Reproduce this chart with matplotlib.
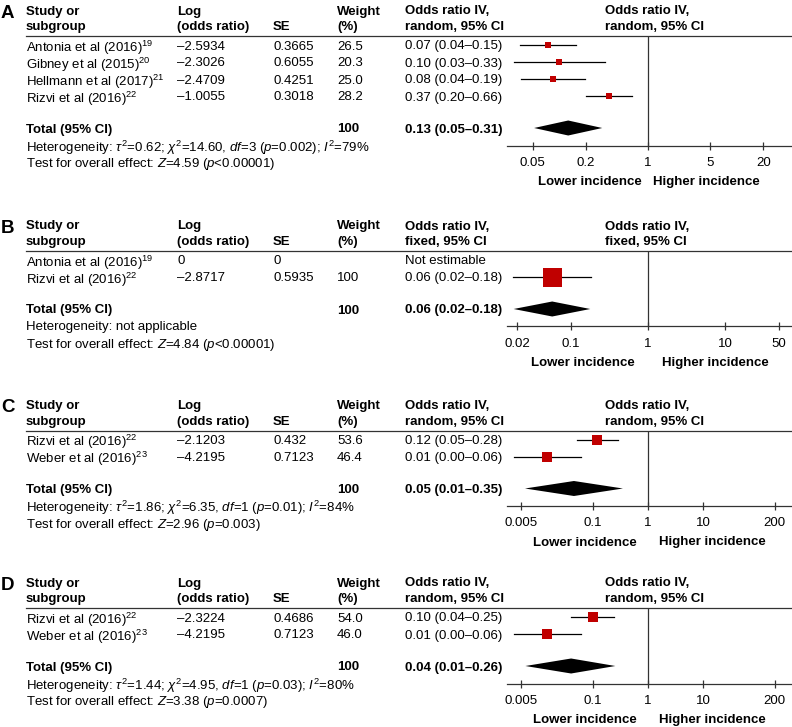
import matplotlib
matplotlib.use('Agg')
import matplotlib.pyplot as plt
from matplotlib.lines import Line2D
from matplotlib.ticker import NullLocator, FixedLocator, FixedFormatter
import numpy as np

plt.rcParams['font.family'] = ['Liberation Sans', 'DejaVu Sans']
plt.rcParams['mathtext.fontset'] = 'custom'
plt.rcParams['mathtext.rm'] = 'Liberation Sans'
plt.rcParams['mathtext.it'] = 'Liberation Sans:italic'
plt.rcParams['mathtext.bf'] = 'Liberation Sans:bold'

W, H = 792, 727
D = '\u2013'

# ---------------- Data ----------------
# Panel A
a_studies = ['Antonia et al (2016)$^{19}$', 'Gibney et al (2015)$^{20}$',
             'Hellmann et al (2017)$^{21}$', 'Rizvi et al (2016)$^{22}$']
a_log_or = [-2.5934, -2.3026, -2.4709, -1.0055]
a_se = [0.3665, 0.6055, 0.4251, 0.3018]
a_weight = [26.5, 20.3, 25.0, 28.2]
a_or_text = ['0.07 (0.04' + D + '0.15)', '0.10 (0.03' + D + '0.33)',
             '0.08 (0.04' + D + '0.19)', '0.37 (0.20' + D + '0.66)']
a_total = [0.126, 0.052, 0.305]
a_total_text = '0.13 (0.05' + D + '0.31)'
a_het = r'Heterogeneity: $\tau^2$=0.62; $\chi^2$=14.60, $df$=3 ($p$=0.002); $I^2$=79%'
a_test = r'Test for overall effect: $Z$=4.59 ($p$<0.00001)'
a_ticks = [0.05, 0.2, 1, 5, 20]
a_ticklabels = ['0.05', '0.2', '1', '5', '20']

# Panel B
b_studies = ['Antonia et al (2016)$^{19}$', 'Rizvi et al (2016)$^{22}$']
b_log_or = [0, -2.8717]
b_se = [0, 0.5935]
b_weight = [None, 100]
b_or_text = ['Not estimable', '0.06 (0.02' + D + '0.18)']
b_total = [0.057, 0.018, 0.178]
b_total_text = '0.06 (0.02' + D + '0.18)'
b_het = 'Heterogeneity: not applicable'
b_test = r'Test for overall effect: $Z$=4.84 ($p$<0.00001)'
b_ticks = [0.02, 0.1, 1, 10, 50]
b_ticklabels = ['0.02', '0.1', '1', '10', '50']

# Panel C
c_studies = ['Rizvi et al (2016)$^{22}$', 'Weber et al (2016)$^{23}$']
c_log_or = [-2.1203, -4.2195]
c_se = [0.432, 0.7123]
c_weight = [53.6, 46.4]
c_or_text = ['0.12 (0.05' + D + '0.28)', '0.01 (0.00' + D + '0.06)']
c_total = [0.045, 0.0058, 0.35]
c_total_text = '0.05 (0.01' + D + '0.35)'
c_het = r'Heterogeneity: $\tau^2$=1.86; $\chi^2$=6.35, $df$=1 ($p$=0.01); $I^2$=84%'
c_test = r'Test for overall effect: $Z$=2.96 ($p$=0.003)'
c_ticks = [0.005, 0.1, 1, 10, 200]
c_ticklabels = ['0.005', '0.1', '1', '10', '200']

# Panel D
d_studies = ['Rizvi et al (2016)$^{22}$', 'Weber et al (2016)$^{23}$']
d_log_or = [-2.3224, -4.2195]
d_se = [0.4686, 0.7123]
d_weight = [54.0, 46.0]
d_or_text = ['0.10 (0.04' + D + '0.25)', '0.01 (0.00' + D + '0.06)']
d_total = [0.04, 0.0059, 0.255]
d_total_text = '0.04 (0.01' + D + '0.26)'
d_het = r'Heterogeneity: $\tau^2$=1.44; $\chi^2$=4.95, $df$=1 ($p$=0.03); $I^2$=80%'
d_test = r'Test for overall effect: $Z$=3.38 ($p$=0.0007)'
d_ticks = [0.005, 0.1, 1, 10, 200]
d_ticklabels = ['0.005', '0.1', '1', '10', '200']

# ---------------- Drawing ----------------
FS = 9.5
RED = '#C00000'
LINE = '#333333'

fig = plt.figure(figsize=(W / 100, H / 100), dpi=100)


def fx(x):
    return x / W


def fy(y):
    return 1 - y / H


def txt(x, y, s, bold=False, ha='left', size=FS):
    fig.text(fx(x), fy(y), s, ha=ha, va='center_baseline', fontsize=size,
             fontweight='bold' if bold else 'normal', color='black')


def fmt(v):
    return str(v).replace('-', D)


def panel(letter, top, studies, log_or, se, weight, or_text, method,
          total, total_text, het, test, ticks, ticklabels, xlim,
          lower_x, higher_x):
    h2 = top + 15.5
    line_y = top + 26
    rows = [top + 35 + 17 * i for i in range(len(studies))]
    total_y = rows[-1] + 32
    het_y = total_y + 17
    test_y = het_y + 17
    axis_y = total_y + 17.5
    lab_y = axis_y + 35

    txt(1, top + 1.5, letter, bold=True, size=13.5)
    txt(26, top, 'Study or', bold=True)
    txt(26, h2, 'subgroup', bold=True)
    txt(177, top, 'Log', bold=True)
    txt(177, h2, '(odds ratio)', bold=True)
    txt(273, h2, 'SE', bold=True)
    txt(337, top, 'Weight', bold=True)
    txt(337, h2, '(%)', bold=True)
    for xx in (405, 605):
        txt(xx, top, 'Odds ratio IV,', bold=True)
        txt(xx, h2, method + ', 95% CI', bold=True)
    fig.add_artist(Line2D([fx(26), fx(W)], [fy(line_y), fy(line_y)],
                          color=LINE, lw=0.9))

    for i, s in enumerate(studies):
        y = rows[i]
        txt(26, y, s)
        txt(177, y, fmt(log_or[i]))
        txt(273, y, fmt(se[i]))
        if weight[i] is not None:
            txt(337, y, str(weight[i]))
        txt(405, y, or_text[i])

    txt(26, total_y, 'Total (95% CI)', bold=True)
    txt(337, total_y, '100', bold=True)
    txt(405, total_y, total_text, bold=True)
    txt(26, het_y, het)
    txt(26, test_y, test)

    ax = fig.add_axes([fx(507), fy(axis_y), (W - 507) / W, (axis_y - line_y) / H])
    ax.set_xscale('log')
    ax.set_xlim(*xlim)
    ax.set_ylim(axis_y, line_y)
    ax.patch.set_alpha(0)
    for sp in ('left', 'top', 'right'):
        ax.spines[sp].set_visible(False)
    ax.spines['bottom'].set_color(LINE)
    ax.spines['bottom'].set_linewidth(0.9)
    ax.set_yticks([])
    ax.xaxis.set_major_locator(FixedLocator(ticks))
    ax.xaxis.set_major_formatter(FixedFormatter(ticklabels))
    ax.xaxis.set_minor_locator(NullLocator())
    ax.tick_params(axis='x', direction='inout', length=6, width=0.9,
                   color=LINE, labelsize=FS, pad=5)
    ax.axvline(1, color=LINE, lw=0.9)

    for i in range(len(studies)):
        if weight[i] is None or se[i] == 0:
            continue
        y = rows[i]
        est = np.exp(log_or[i])
        lo = np.exp(log_or[i] - 1.96 * se[i])
        hi = np.exp(log_or[i] + 1.96 * se[i])
        ax.plot([lo, hi], [y, y], color='black', lw=0.9, clip_on=False)
        side = 1.5 + 0.175 * weight[i]
        ax.plot([est], [y], marker='s', ms=side * 0.72, color=RED,
                mec=RED, mew=0, linestyle='none', clip_on=False)

    est, lo, hi = total
    dh = 7.5
    ax.fill([lo, est, hi, est], [total_y, total_y - dh, total_y, total_y + dh],
            color='black', lw=0, clip_on=False)

    txt(lower_x, lab_y, 'Lower incidence', bold=True, ha='right')
    txt(higher_x, lab_y, 'Higher incidence', bold=True, ha='left')


def lims(px_per_dec):
    return (10 ** ((507 - 648) / px_per_dec), 10 ** ((W - 648) / px_per_dec))


panel('A', 10, a_studies, a_log_or, a_se, a_weight, a_or_text, 'random',
      a_total, a_total_text, a_het, a_test, a_ticks, a_ticklabels,
      lims(88.7), 642, 653)
panel('B', 225, b_studies, b_log_or, b_se, b_weight, b_or_text, 'fixed',
      b_total, b_total_text, b_het, b_test, b_ticks, b_ticklabels,
      lims(77), 635, 662)
panel('C', 404.5, c_studies, c_log_or, c_se, c_weight, c_or_text, 'random',
      c_total, c_total_text, c_het, c_test, c_ticks, c_ticklabels,
      lims(55), 637, 659)
panel('D', 582, d_studies, d_log_or, d_se, d_weight, d_or_text, 'random',
      d_total, d_total_text, d_het, d_test, d_ticks, d_ticklabels,
      lims(55), 637, 659)

fig.savefig('out.png', dpi=100)
